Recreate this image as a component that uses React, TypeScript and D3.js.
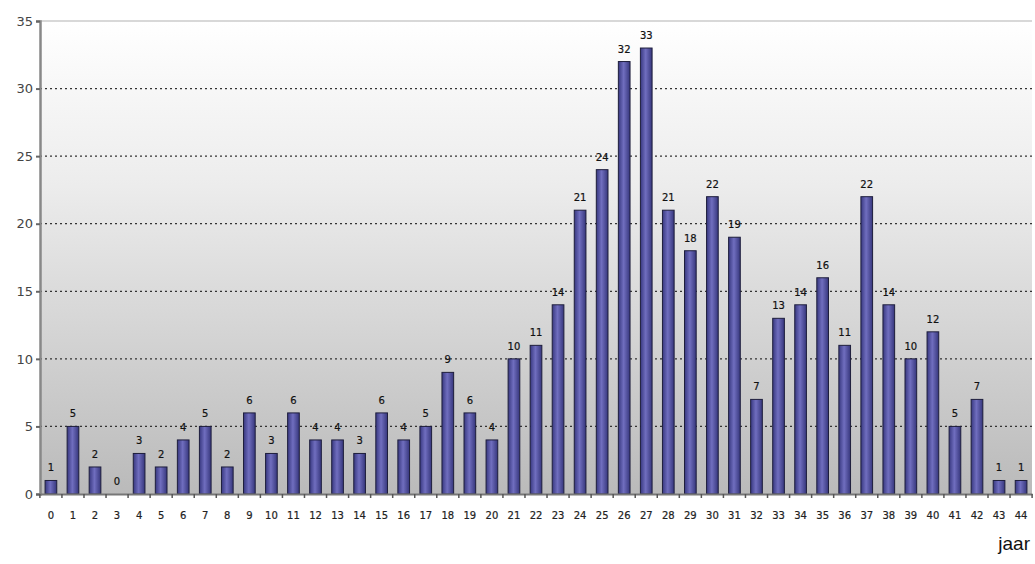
import * as d3 from 'd3';
import { useEffect, useRef } from 'react';

const years = d3.range(0, 45).map(String);
const counts = [1, 5, 2, 0, 3, 2, 4, 5, 2, 6, 3, 6, 4, 4, 3, 6, 4, 5, 9, 6, 4, 10, 11, 14, 21, 24, 32, 33, 21, 18, 22, 19, 7, 13, 14, 16, 11, 22, 14, 10, 12, 5, 7, 1, 1];
const yTicks = [0, 5, 10, 15, 20, 25, 30, 35];
const xTitle = 'jaar';

export default function App() {
    const svgRef = useRef<SVGSVGElement>(null);
    const width = 1035;
    const height = 564;
    const margin = { top: 21, right: 3, bottom: 70, left: 40 };

    useEffect(() => {
        const svg = d3.select(svgRef.current);
        svg.selectAll('*').remove();

        const innerW = width - margin.left - margin.right;
        const innerH = height - margin.top - margin.bottom;
        const xScale = d3.scaleBand().domain(years).range([0, innerW]).paddingInner(0.47).paddingOuter(0.23);
        const yScale = d3.scaleLinear().domain([0, 35]).range([innerH, 0]);

        const defs = svg.append('defs');
        const bg = defs.append('linearGradient').attr('id', 'bg').attr('x1', 0).attr('y1', 0).attr('x2', 0).attr('y2', 1);
        bg.append('stop').attr('offset', '0%').attr('stop-color', '#ffffff');
        bg.append('stop').attr('offset', '35%').attr('stop-color', '#ececec');
        bg.append('stop').attr('offset', '100%').attr('stop-color', '#bababa');

        const barGrad = defs.append('linearGradient').attr('id', 'bar').attr('x1', 0).attr('y1', 0).attr('x2', 1).attr('y2', 0);
        barGrad.append('stop').attr('offset', '0%').attr('stop-color', '#383880');
        barGrad.append('stop').attr('offset', '45%').attr('stop-color', '#706ebf');
        barGrad.append('stop').attr('offset', '100%').attr('stop-color', '#36367c');

        svg.append('rect').attr('width', width).attr('height', height).attr('fill', 'white');

        const g = svg.append('g').attr('transform', `translate(${margin.left}, ${margin.top})`);

        g.append('rect').attr('width', innerW).attr('height', innerH).attr('fill', 'url(#bg)');

        // gridlines
        g.selectAll('.grid')
            .data(yTicks.filter((t) => t > 0 && t < 35))
            .enter()
            .append('line')
            .attr('x1', 0)
            .attr('x2', innerW)
            .attr('y1', (t) => yScale(t))
            .attr('y2', (t) => yScale(t))
            .attr('stroke', '#333')
            .attr('stroke-width', 1.3)
            .attr('stroke-dasharray', '2,3');

        g.append('line')
            .attr('x1', 0).attr('x2', innerW)
            .attr('y1', yScale(35)).attr('y2', yScale(35))
            .attr('stroke', '#d8d8d8').attr('stroke-width', 2);

        g.selectAll('.bar')
            .data(counts)
            .enter()
            .append('rect')
            .attr('x', (_, i) => xScale(years[i]) || 0)
            .attr('y', (d) => yScale(d))
            .attr('width', xScale.bandwidth())
            .attr('height', (d) => innerH - yScale(d))
            .attr('fill', 'url(#bar)')
            .attr('stroke', '#1e1e3c')
            .attr('stroke-width', 1);

        g.selectAll('.bar-label')
            .data(counts)
            .enter()
            .append('text')
            .attr('x', (_, i) => (xScale(years[i]) || 0) + xScale.bandwidth() / 2)
            .attr('y', (d) => yScale(d) - 9)
            .attr('text-anchor', 'middle')
            .style('font-family', 'DejaVu Sans, sans-serif')
            .style('font-size', '10px')
            .attr('fill', '#111')
            .attr('stroke', '#111')
            .attr('stroke-width', 0.2)
            .text((d) => d);

        const yAxis = g.append('g')
            .call(d3.axisLeft(yScale).tickValues(yTicks).tickSize(4).tickPadding(3));
        yAxis.select('.domain').attr('stroke', '#888').attr('stroke-width', 2.5);
        yAxis.selectAll('.tick line').attr('stroke', '#666').attr('stroke-width', 2);
        yAxis.selectAll('text')
            .style('font-family', 'DejaVu Sans, sans-serif')
            .style('font-size', '13px')
            .attr('fill', '#444');

        const xAxis = g.append('g')
            .attr('transform', `translate(0, ${innerH})`)
            .call(d3.axisBottom(xScale).tickSize(0).tickPadding(18));
        xAxis.select('.domain').attr('stroke', '#777').attr('stroke-width', 2);
        xAxis.selectAll('text')
            .style('font-family', 'DejaVu Sans, sans-serif')
            .style('font-size', '10px')
            .attr('fill', '#222')
            .attr('stroke', '#222')
            .attr('stroke-width', 0.2);

        const step = xScale.step();
        g.selectAll('.xtick')
            .data(d3.range(0, years.length + 1))
            .enter()
            .append('line')
            .attr('x1', (i) => (xScale(years[0]) || 0) - (step * 0.47) / 2 + i * step)
            .attr('x2', (i) => (xScale(years[0]) || 0) - (step * 0.47) / 2 + i * step)
            .attr('y1', innerH)
            .attr('y2', innerH + 4)
            .attr('stroke', '#555')
            .attr('stroke-width', 1.5);

        svg.append('text')
            .attr('x', 1030)
            .attr('y', 550)
            .attr('text-anchor', 'end')
            .style('font-family', 'Liberation Sans, Arial, sans-serif')
            .style('font-size', '19px')
            .attr('fill', '#111')
            .text(xTitle);
    }, []);

    return (
        <svg ref={svgRef} width={width} height={height} style={{ position: 'absolute', left: 0, top: 0 }}></svg>
    );
}
